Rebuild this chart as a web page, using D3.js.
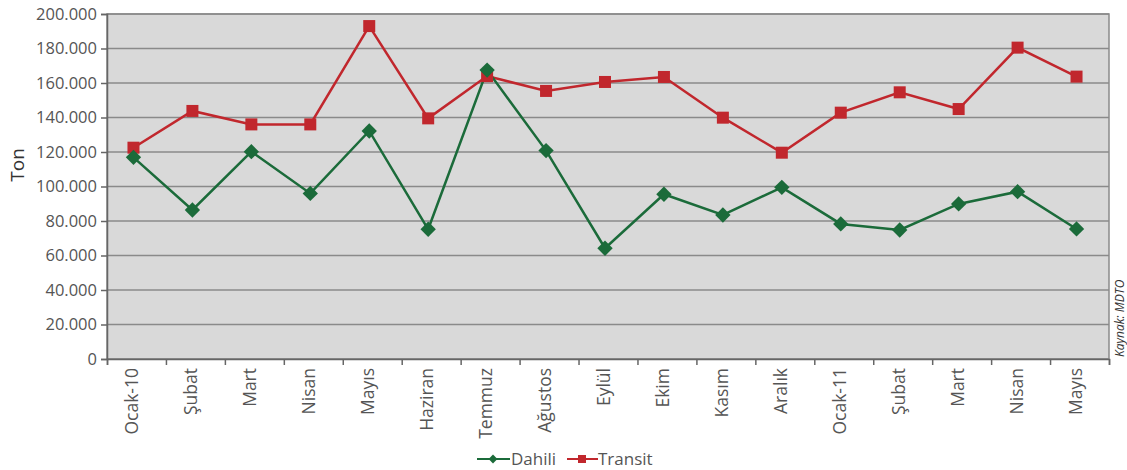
<!DOCTYPE html>
<html><head><meta charset="utf-8">
<script src="https://cdn.jsdelivr.net/npm/d3@7"></script>
<style>body{margin:0;background:#fff;}svg{display:block;font-family:"Open Sans",sans-serif;}</style>
</head><body>
<svg id="c" width="1127" height="470"></svg>
<script>
const categories = ["Ocak-10","Şubat","Mart","Nisan","Mayıs","Haziran","Temmuz","Ağustos","Eylül","Ekim","Kasım","Aralık","Ocak-11","Şubat","Mart","Nisan","Mayıs"];
const dahili = [116900,86400,120200,96000,132200,75200,167500,120800,64200,95500,83500,99500,78300,74800,89900,97000,75400];
const transit = [122500,143800,136000,136000,193000,139500,164000,155400,160600,163500,139900,119600,142800,154600,144900,180500,163700];
const yTicks = [0,20000,40000,60000,80000,100000,120000,140000,160000,180000,200000];
const yTickLabels = ["0","20.000","40.000","60.000","80.000","100.000","120.000","140.000","160.000","180.000","200.000"];

const svg = d3.select("#c");
const L=107,R=1109,T=14,B=359;
const x = d3.scaleBand().domain(d3.range(categories.length)).range([L,R]);
const y = d3.scaleLinear().domain([0,200000]).range([B,T]);
const green="#1b6b3a", red="#c1272d", txt="#555";

svg.append("rect").attr("x",L).attr("y",T).attr("width",R-L).attr("height",B-T).attr("fill","#d9d9d9");
svg.append("g").selectAll("line").data(yTicks).join("line")
  .attr("x1",L).attr("x2",R).attr("y1",d=>y(d)).attr("y2",d=>y(d))
  .attr("stroke","#8a8a8a").attr("stroke-width",1.5);
svg.append("rect").attr("x",L).attr("y",T).attr("width",R-L).attr("height",B-T).attr("fill","none").attr("stroke","#8a8a8a").attr("stroke-width",1.5);

const yAxis = svg.append("g").attr("transform",`translate(${L},0)`)
  .call(d3.axisLeft(y).tickValues(yTicks).tickFormat((d,i)=>yTickLabels[i]).tickSize(6).tickPadding(4));
yAxis.select(".domain").attr("stroke","#666").attr("stroke-width",1.5);
yAxis.selectAll(".tick line").attr("stroke","#666").attr("stroke-width",1.5);
yAxis.selectAll("text").attr("fill",txt).style("font-size","16.5px").style("font-family","'Open Sans',sans-serif");

const xb = d3.scaleLinear().domain([0,categories.length]).range([L,R]);
const xAxis = svg.append("g").attr("transform",`translate(0,${B})`)
  .call(d3.axisBottom(xb).tickValues(d3.range(categories.length+1)).tickFormat("").tickSize(6));
xAxis.select(".domain").attr("stroke","#666").attr("stroke-width",1.5);
xAxis.selectAll(".tick line").attr("stroke","#666").attr("stroke-width",1.5);

svg.append("g").selectAll("text").data(categories).join("text")
  .attr("transform",(d,i)=>`translate(${x(i)+x.bandwidth()/2+2},${B+9}) rotate(-90)`)
  .attr("text-anchor","end").attr("fill",txt).style("font-size","17.5px").text(d=>d);

svg.append("text").attr("transform","translate(24,165) rotate(-90)").attr("text-anchor","middle")
  .attr("fill","#333").style("font-size","19px").text("Ton");
svg.append("text").attr("transform","translate(1124,357) rotate(-90)").attr("text-anchor","start")
  .attr("fill","#333").style("font-size","12px").style("font-style","italic").text("Kaynak: MDTO");

const cx = i=>x(i)+x.bandwidth()/2 - 3;
const line = d3.line().x((d,i)=>cx(i)).y(d=>y(d));
svg.append("path").datum(transit).attr("d",line).attr("fill","none").attr("stroke",red).attr("stroke-width",2.5);
svg.append("path").datum(dahili).attr("d",line).attr("fill","none").attr("stroke",green).attr("stroke-width",2.5);
svg.append("g").selectAll("rect").data(transit).join("rect")
  .attr("x",(d,i)=>cx(i)-6).attr("y",d=>y(d)-6).attr("width",12).attr("height",12).attr("fill",red);
const diamond = d3.symbol().type(d3.symbolDiamond2).size(150);
svg.append("g").selectAll("path").data(dahili).join("path")
  .attr("transform",(d,i)=>`translate(${cx(i)},${y(d)})`).attr("d",diamond).attr("fill",green);

// legend
const lg = svg.append("g");
lg.append("line").attr("x1",477).attr("x2",510).attr("y1",459).attr("y2",459).attr("stroke",green).attr("stroke-width",2);
lg.append("path").attr("transform","translate(493,459)").attr("d",d3.symbol().type(d3.symbolDiamond2).size(50)).attr("fill",green);
lg.append("text").attr("x",511).attr("y",465).attr("fill",txt).style("font-size","17px").text("Dahili");
lg.append("line").attr("x1",567).attr("x2",598).attr("y1",459).attr("y2",459).attr("stroke",red).attr("stroke-width",2);
lg.append("rect").attr("x",578).attr("y",455).attr("width",8).attr("height",8).attr("fill",red);
lg.append("text").attr("x",598).attr("y",465).attr("fill",txt).style("font-size","17px").text("Transit");
</script>
</body></html>
